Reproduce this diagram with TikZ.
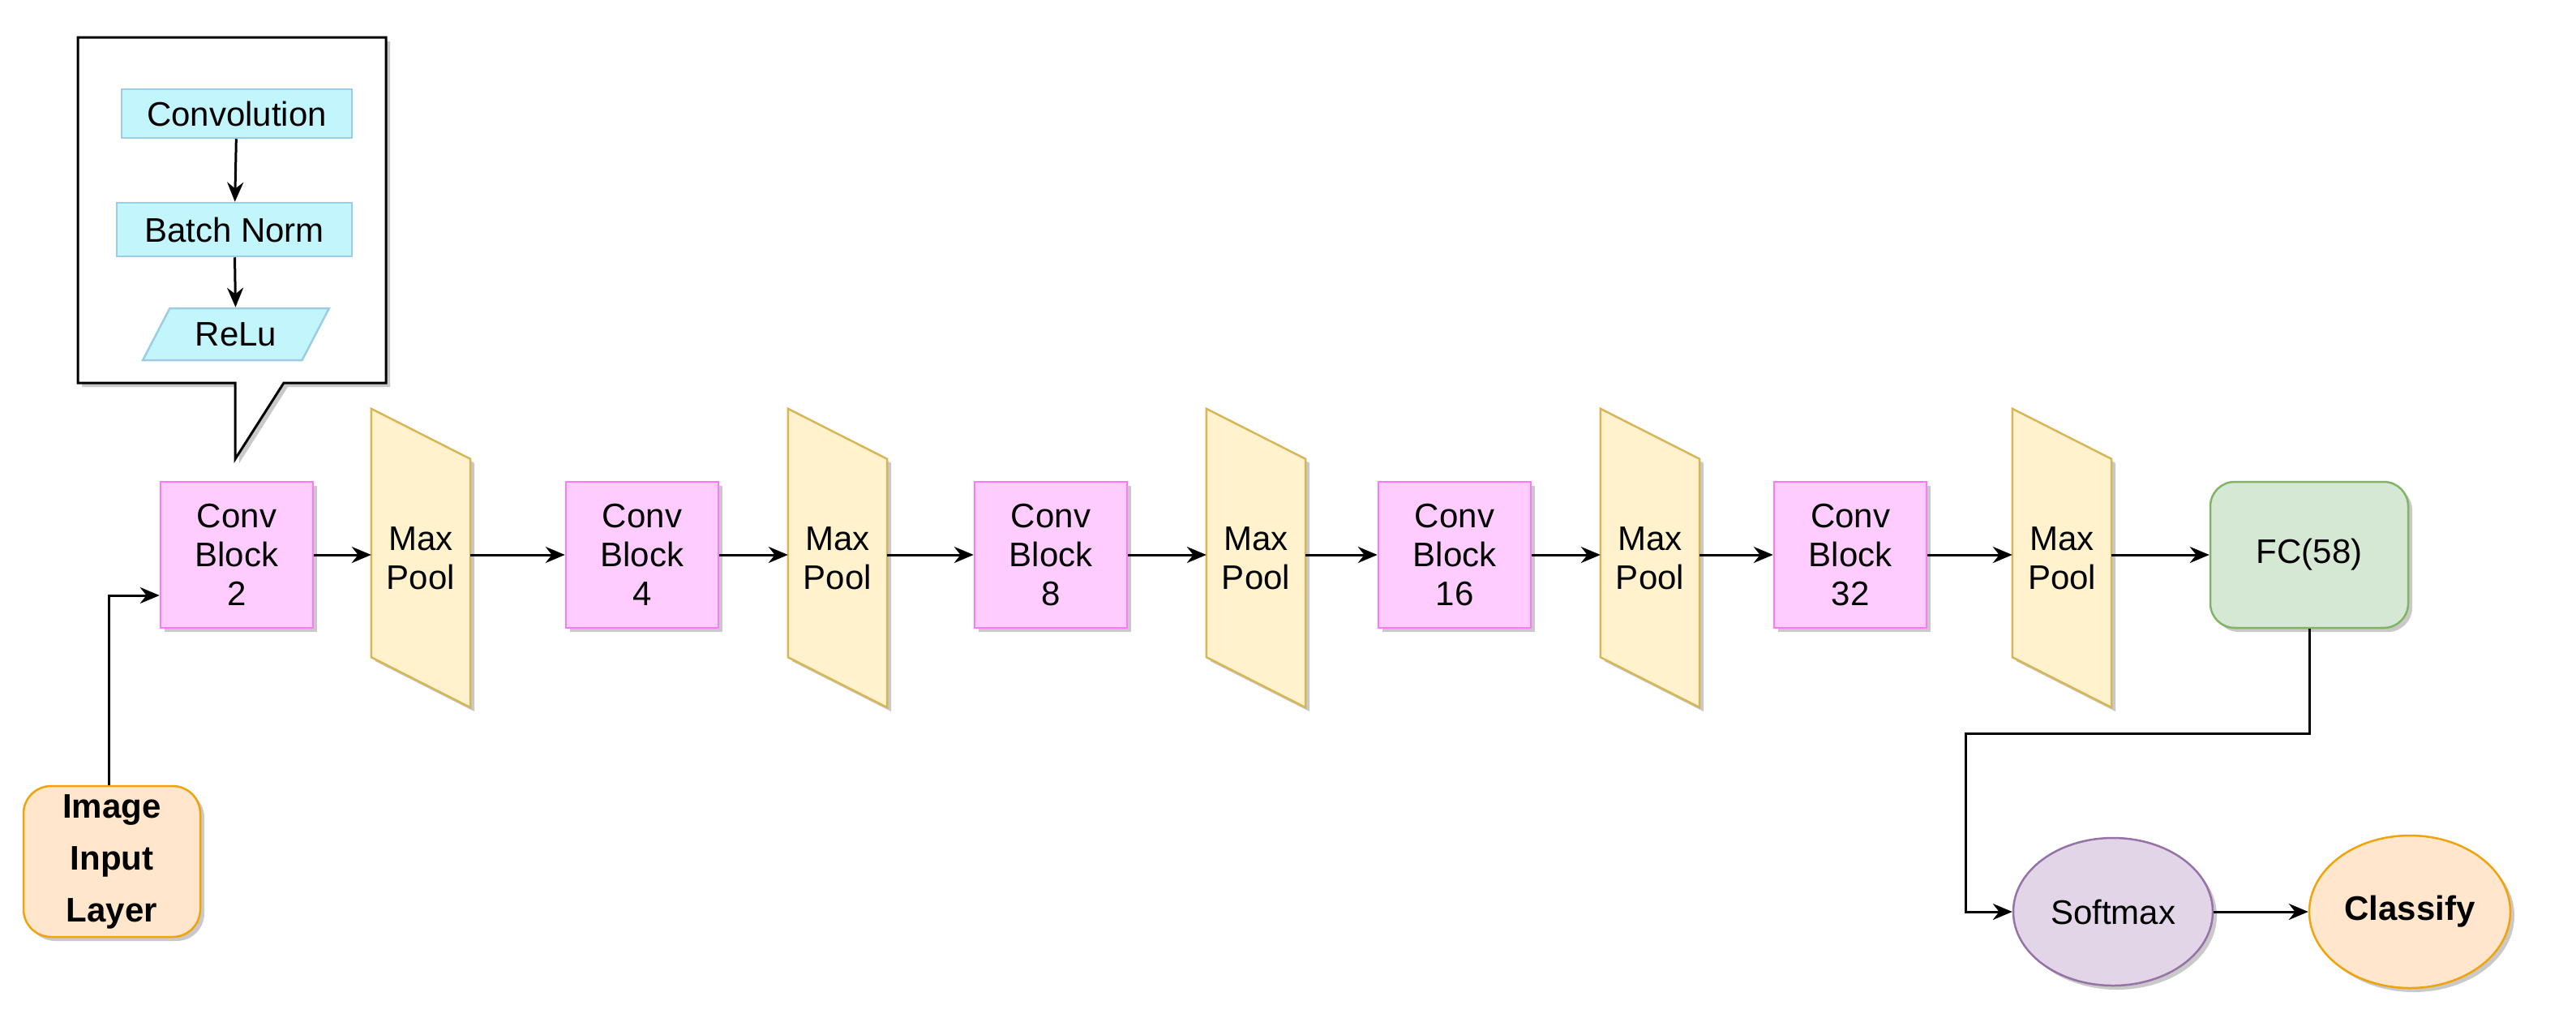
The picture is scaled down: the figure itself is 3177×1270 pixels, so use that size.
\documentclass[tikz,border=0pt]{standalone}
\usepackage{fontspec}
\setmainfont{Liberation Sans}
\usetikzlibrary{arrows.meta,shadows,shapes.geometric}
\definecolor{pinkF}{HTML}{FFCCFF}\definecolor{pinkD}{HTML}{FF77FF}
\definecolor{yelF}{HTML}{FFF2CC}\definecolor{yelD}{HTML}{D6B656}
\definecolor{cyF}{HTML}{C2F6FC}\definecolor{cyD}{HTML}{9CCCE6}
\definecolor{grF}{HTML}{D5E8D4}\definecolor{grD}{HTML}{82B366}
\definecolor{puF}{HTML}{E1D5E7}\definecolor{puD}{HTML}{9673A6}
\definecolor{orF}{HTML}{FFE6CC}\definecolor{orD}{HTML}{F0A30A}
\tikzset{
 shad/.style={drop shadow={shadow xshift=5pt,shadow yshift=-5pt,fill=black!30,opacity=.7}},
 txt/.style={font=\fontsize{42}{48}\selectfont,align=center},
 conv/.style={txt,shad,draw=pinkD,fill=pinkF,line width=2.5pt,minimum width=188pt,minimum height=180pt,inner sep=0},
 pool/.style={txt,minimum width=122pt,minimum height=368pt,inner sep=0},
 poolshape/.style={draw=yelD,fill=yelF,line width=2.5pt,line join=miter,shad},
 cy/.style={txt,draw=cyD,fill=cyF,line width=2.5pt,inner sep=0},
 arr/.style={line width=3pt,-{Stealth[length=24pt,width=20pt]}},
 ell/.style={txt,ellipse,shad,line width=2.5pt,inner sep=0},
}
\begin{document}
\begin{tikzpicture}[x=1pt,y=-1pt]
\useasboundingbox (0,0) rectangle (3177,1270);
% callout
\draw[line width=3pt,fill=white,shad] (96,46) -- (476,46) -- (476,472) -- (350,472) -- (290,566) -- (290,472) -- (96,472) -- cycle;
\node[cy,minimum width=284pt,minimum height=60pt] (cv) at (292,140) {Convolution};
\node[cy,minimum width=290pt,minimum height=66pt] (bn) at (289,283) {Batch Norm};
\node[cy,trapezium,trapezium left angle=55,trapezium right angle=125,minimum width=230pt,minimum height=64pt,trapezium stretches=true] (re) at (291,412) {ReLu};
\draw[arr] (cv) -- (bn);
\draw[arr] (bn) -- (re);
% conv blocks and pools
\foreach \n/\cx/\px/\t in {1/292/519/2,2/792/1033/4,3/1296/1549/8,4/1794/2035/16,5/2282/2543/32}{
  \node[conv] (c\n) at (\cx,684) {Conv\\Block\\\t};
  \node[pool] (p\n) at (\px,688) {Max\\Pool};
  \draw[poolshape] (p\n.north west) -- ([yshift=-62pt]p\n.north east) -- (p\n.south east) -- ([yshift=62pt]p\n.south west) -- cycle;
  \node[txt] at (p\n) {Max\\Pool};
}
\node[txt,shad,draw=grD,fill=grF,line width=2.5pt,rounded corners=30pt,minimum width=244pt,minimum height=180pt] (fc) at (2848,684) {FC(58)};
\foreach \a/\b in {c1/p1,p1/c2,c2/p2,p2/c3,c3/p3,p3/c4,c4/p4,p4/c5,c5/p5,p5/fc}{
  \draw[arr] (\a.east |- 0,684) -- (\b.west |- 0,684);
}
\node[txt,shad,draw=orD,fill=orF,line width=2.5pt,rounded corners=34pt,minimum width=218pt,minimum height=186pt,font=\fontsize{42}{64}\selectfont\bfseries] (in) at (138,1062) {Image\\Input\\Layer};
\draw[arr] (in.north -| 134,0) -- (134,734) -- (c1.west |- 0,734);
\node[ell,draw=puD,fill=puF,minimum width=246pt,minimum height=182pt] (sm) at (2606,1124) {Softmax};
\node[ell,draw=orD,fill=orF,minimum width=248pt,minimum height=188pt,font=\fontsize{42}{48}\selectfont\bfseries] (cl) at (2972,1124) {Classify};
\draw[arr] (fc.south) -- (2848,904) -- (2424,904) -- (2424,1124) -- (sm.west);
\draw[arr] (sm) -- (cl);
\end{tikzpicture}
\end{document}
